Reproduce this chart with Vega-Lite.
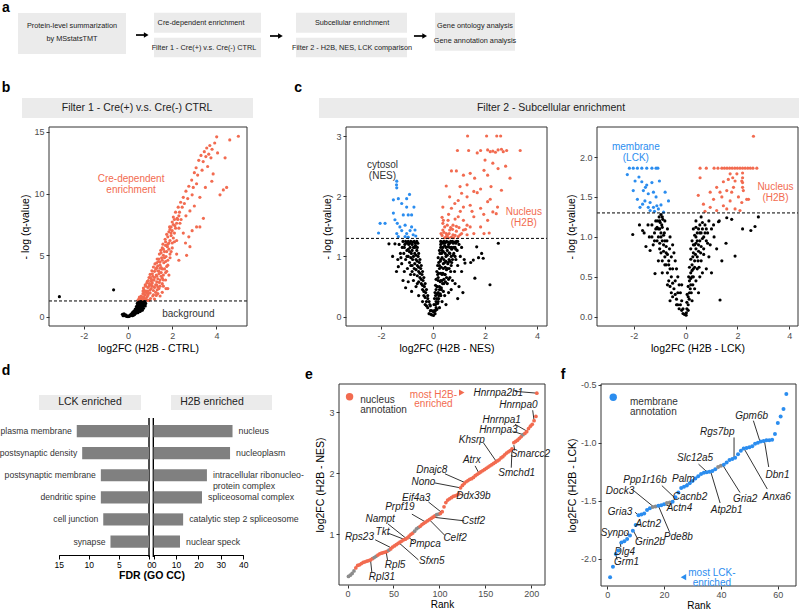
{
"$schema":"https://vega.github.io/schema/vega-lite/v6.json",
"width":799,"height":609,"autosize":{"type":"none"},"padding":0,"background":"white",
"config":{"view":{"stroke":null},"font":"Liberation Sans","axis":{"grid":false,"domain":false,"tickSize":3,"tickColor":"#333333","labelColor":"#4D4D4D","labelFontSize":9,"titleFontSize":10.5,"titleFontWeight":"normal","titleColor":"#000000","labelPadding":2,"titlePadding":3,"labelFlush":false,"labelExpr":"replace(datum.label, '−', '-')"}},
"datasets":{
"boxes":[{"x0":2.25,"x1":15.77,"y0":2.13,"y1":8.87},{"x0":19.27,"x1":32.67,"y0":2.09,"y1":5.37},{"x0":19.27,"x1":32.67,"y0":6.19,"y1":9.41},{"x0":37.05,"x1":50.94,"y0":2.09,"y1":5.37},{"x0":37.05,"x1":50.94,"y0":6.19,"y1":9.41},{"x0":54.44,"x1":64.46,"y0":2.09,"y1":8.33},{"x0":2.75,"x1":31.66,"y0":16.09,"y1":19.38},{"x0":39.92,"x1":100,"y0":16.09,"y1":19.38},{"x0":4.88,"x1":17.65,"y0":64.86,"y1":67.32},{"x0":21.4,"x1":34.04,"y0":64.86,"y1":67.32}],
"arrows":[{"x0":17.02,"x1":18.3,"y":5.75},{"x0":33.79,"x1":35.1,"y":5.91},{"x0":51.81,"x1":53.15,"y":5.91}],
"vlines":[{"x":18.65,"y0":68.64,"y1":91.46},{"x":19.19,"y0":68.64,"y1":91.46}],
"anntext":[{"k":"letter","t":"a","x":0.75,"y":1.31},{"k":"letter","t":"b","x":0.75,"y":14.45},{"k":"letter","t":"c","x":37.3,"y":14.45},{"k":"letter","t":"d","x":0.75,"y":60.9},{"k":"letter","t":"e","x":38.67,"y":61.58},{"k":"letter","t":"f","x":70.46,"y":61.58},
{"k":"box","t":"Protein-level summarization","x":9.01,"y":4.27},{"k":"box","t":"by MSstatsTMT","x":9.01,"y":6.45},{"k":"box","t":"Cre-dependent enrichment","x":25.16,"y":3.73},{"k":"box","t":"Filter 1 - Cre(+) v.s. Cre(-) CTRL","x":25.53,"y":7.83},{"k":"box","t":"Subcellular enrichment","x":44.06,"y":3.73},{"k":"box","t":"Filter 2 - H2B, NES, LCK comparison","x":44.06,"y":7.83},{"k":"box","t":"Gene ontology analysis","x":59.45,"y":4.27},{"k":"box","t":"Gene annotation analysis","x":59.45,"y":6.73},
{"k":"strip","t":"Filter 1 - Cre(+) v.s. Cre(-) CTRL","x":17.15,"y":17.73},{"k":"strip","t":"Filter 2 - Subcellular enrichment","x":68.96,"y":17.73},{"k":"strip","t":"LCK enriched","x":11.26,"y":66.09},{"k":"strip","t":"H2B enriched","x":26.53,"y":66.09},{"k":"dtitle","t":"FDR (GO CC)","x":19.02,"y":94.5}],
"b":[{"x":0.45,"y":1.35,"g":"r"},{"x":0.5,"y":1.5,"g":"r"},{"x":0.55,"y":1.4,"g":"r"},{"x":0.6,"y":1.7,"g":"r"},{"x":0.62,"y":1.35,"g":"r"},{"x":0.68,"y":1.9,"g":"r"},{"x":0.7,"y":1.5,"g":"r"},{"x":0.72,"y":2.2,"g":"r"},{"x":0.75,"y":1.4,"g":"r"},{"x":0.78,"y":1.8,"g":"r"},{"x":0.8,"y":2.5,"g":"r"},{"x":0.82,"y":2.1,"g":"r"},{"x":0.85,"y":1.6,"g":"r"},{"x":0.88,"y":2.9,"g":"r"},{"x":0.9,"y":2.4,"g":"r"},{"x":0.92,"y":1.9,"g":"r"},{"x":0.95,"y":3.2,"g":"r"},{"x":0.97,"y":2.7,"g":"r"},{"x":1.0,"y":2.2,"g":"r"},{"x":1.0,"y":3.45,"g":"r"},{"x":1.02,"y":1.5,"g":"r"},{"x":1.05,"y":2.9,"g":"r"},{"x":1.08,"y":3.75,"g":"r"},{"x":1.1,"y":2.5,"g":"r"},{"x":1.12,"y":3.3,"g":"r"},{"x":1.15,"y":4.05,"g":"r"},{"x":1.15,"y":1.8,"g":"r"},{"x":1.18,"y":3.0,"g":"r"},{"x":1.2,"y":3.7,"g":"r"},{"x":1.22,"y":4.3,"g":"r"},{"x":1.25,"y":2.6,"g":"r"},{"x":1.28,"y":3.4,"g":"r"},{"x":1.3,"y":4.0,"g":"r"},{"x":1.32,"y":4.7,"g":"r"},{"x":1.32,"y":2.2,"g":"r"},{"x":1.35,"y":3.1,"g":"r"},{"x":1.38,"y":4.5,"g":"r"},{"x":1.42,"y":5.1,"g":"r"},{"x":1.4,"y":3.7,"g":"r"},{"x":1.42,"y":2.8,"g":"r"},{"x":1.45,"y":4.2,"g":"r"},{"x":1.48,"y":5.4,"g":"r"},{"x":1.5,"y":3.3,"g":"r"},{"x":1.52,"y":4.8,"g":"r"},{"x":1.55,"y":3.9,"g":"r"},{"x":1.58,"y":5.9,"g":"r"},{"x":1.6,"y":2.5,"g":"r"},{"x":1.62,"y":4.4,"g":"r"},{"x":1.65,"y":5.3,"g":"r"},{"x":1.68,"y":6.3,"g":"r"},{"x":1.7,"y":3.6,"g":"r"},{"x":1.72,"y":4.9,"g":"r"},{"x":1.75,"y":6.7,"g":"r"},{"x":1.78,"y":5.7,"g":"r"},{"x":1.8,"y":4.2,"g":"r"},{"x":1.85,"y":6.0,"g":"r"},{"x":1.88,"y":7.3,"g":"r"},{"x":1.9,"y":5.1,"g":"r"},{"x":1.95,"y":6.6,"g":"r"},{"x":2.0,"y":7.7,"g":"r"},{"x":2.0,"y":5.6,"g":"r"},{"x":2.05,"y":8.1,"g":"r"},{"x":2.1,"y":6.8,"g":"r"},{"x":2.12,"y":7.4,"g":"r"},{"x":2.15,"y":8.5,"g":"r"},{"x":2.2,"y":6.2,"g":"r"},{"x":2.22,"y":8.0,"g":"r"},{"x":2.27,"y":8.9,"g":"r"},{"x":2.3,"y":7.2,"g":"r"},{"x":2.33,"y":8.5,"g":"r"},{"x":2.38,"y":9.3,"g":"r"},{"x":2.4,"y":7.9,"g":"r"},{"x":2.45,"y":8.9,"g":"r"},{"x":2.5,"y":9.7,"g":"r"},{"x":2.5,"y":6.8,"g":"r"},{"x":2.55,"y":9.2,"g":"r"},{"x":2.62,"y":10.2,"g":"r"},{"x":2.62,"y":8.2,"g":"r"},{"x":2.65,"y":5.0,"g":"r"},{"x":2.7,"y":9.6,"g":"r"},{"x":2.75,"y":10.6,"g":"r"},{"x":2.75,"y":6.5,"g":"r"},{"x":2.8,"y":8.6,"g":"r"},{"x":2.8,"y":5.7,"g":"r"},{"x":2.88,"y":11.1,"g":"r"},{"x":2.9,"y":9.9,"g":"r"},{"x":2.9,"y":7.0,"g":"r"},{"x":2.95,"y":10.5,"g":"r"},{"x":3.0,"y":11.7,"g":"r"},{"x":3.0,"y":9.0,"g":"r"},{"x":3.08,"y":12.1,"g":"r"},{"x":3.1,"y":7.3,"g":"r"},{"x":3.1,"y":10.8,"g":"r"},{"x":3.15,"y":11.5,"g":"r"},{"x":3.2,"y":12.7,"g":"r"},{"x":3.25,"y":7.3,"g":"r"},{"x":3.25,"y":9.7,"g":"r"},{"x":3.3,"y":13.1,"g":"r"},{"x":3.35,"y":11.9,"g":"r"},{"x":3.41,"y":8.0,"g":"r"},{"x":3.4,"y":12.6,"g":"r"},{"x":3.45,"y":13.4,"g":"r"},{"x":3.5,"y":10.5,"g":"r"},{"x":3.52,"y":13.0,"g":"r"},{"x":3.56,"y":13.7,"g":"r"},{"x":3.6,"y":12.2,"g":"r"},{"x":3.65,"y":13.2,"g":"r"},{"x":3.7,"y":13.9,"g":"r"},{"x":3.75,"y":12.9,"g":"r"},{"x":3.79,"y":11.0,"g":"r"},{"x":3.8,"y":13.6,"g":"r"},{"x":3.85,"y":11.6,"g":"r"},{"x":3.92,"y":14.1,"g":"r"},{"x":4.01,"y":14.6,"g":"r"},{"x":4.05,"y":13.3,"g":"r"},{"x":4.16,"y":9.9,"g":"r"},{"x":4.31,"y":10.3,"g":"r"},{"x":4.39,"y":12.9,"g":"r"},{"x":4.46,"y":10.5,"g":"r"},{"x":4.6,"y":14.35,"g":"r"},{"x":4.99,"y":14.65,"g":"r"},{"x":1.72,"y":2.3,"g":"r"},{"x":1.8,"y":2.3,"g":"r"},{"x":2.3,"y":4.6,"g":"r"},{"x":1.55,"y":2.0,"g":"r"},{"x":1.45,"y":1.7,"g":"r"},{"x":1.2,"y":1.45,"g":"r"},{"x":0.95,"y":1.35,"g":"r"},{"x":1.4,"y":2.3,"g":"r"},{"x":1.7,"y":3.0,"g":"r"},{"x":1.85,"y":3.4,"g":"r"},{"x":2.6,"y":6.0,"g":"r"},{"x":2.2,"y":5.1,"g":"r"},
{"x":0.52,"y":1.62,"g":"r"},{"x":0.58,"y":1.55,"g":"r"},{"x":0.65,"y":1.6,"g":"r"},{"x":0.72,"y":1.65,"g":"r"},{"x":0.8,"y":1.45,"g":"r"},{"x":0.88,"y":1.35,"g":"r"},{"x":0.9,"y":1.75,"g":"r"},{"x":0.65,"y":1.45,"g":"r"},{"x":0.85,"y":1.95,"g":"r"},{"x":0.75,"y":2.0,"g":"r"},{"x":0.68,"y":2.1,"g":"r"},{"x":0.7,"y":2.35,"g":"r"},{"x":0.78,"y":2.6,"g":"r"},{"x":0.85,"y":2.75,"g":"r"},{"x":0.95,"y":2.5,"g":"r"},{"x":1.05,"y":2.3,"g":"r"},{"x":1.15,"y":2.15,"g":"r"},{"x":1.25,"y":2.0,"g":"r"},{"x":1.35,"y":1.9,"g":"r"},{"x":0.92,"y":2.95,"g":"r"},{"x":1.05,"y":2.6,"g":"r"},{"x":1.2,"y":2.4,"g":"r"},{"x":1.3,"y":2.6,"g":"r"},{"x":1.45,"y":2.5,"g":"r"},{"x":1.55,"y":2.7,"g":"r"},{"x":1.1,"y":2.75,"g":"r"},{"x":0.9,"y":2.1,"g":"r"},{"x":1.0,"y":1.95,"g":"r"},{"x":1.12,"y":1.7,"g":"r"},{"x":1.28,"y":1.75,"g":"r"},{"x":1.35,"y":2.45,"g":"r"},{"x":1.0,"y":3.2,"g":"r"},{"x":1.1,"y":3.5,"g":"r"},{"x":1.2,"y":3.2,"g":"r"},{"x":1.25,"y":3.9,"g":"r"},{"x":1.3,"y":3.3,"g":"r"},{"x":1.4,"y":3.5,"g":"r"},{"x":1.5,"y":3.6,"g":"r"},{"x":1.6,"y":3.4,"g":"r"},{"x":1.65,"y":3.9,"g":"r"},{"x":1.45,"y":3.0,"g":"r"},{"x":1.3,"y":2.85,"g":"r"},{"x":1.55,"y":3.15,"g":"r"},{"x":1.15,"y":3.0,"g":"r"},{"x":1.05,"y":3.1,"g":"r"},{"x":1.35,"y":3.75,"g":"r"},{"x":1.45,"y":3.95,"g":"r"},{"x":1.75,"y":3.7,"g":"r"},{"x":1.6,"y":3.0,"g":"r"},{"x":1.3,"y":4.4,"g":"r"},{"x":1.4,"y":4.7,"g":"r"},{"x":1.45,"y":4.45,"g":"r"},{"x":1.55,"y":4.6,"g":"r"},{"x":1.6,"y":5.0,"g":"r"},{"x":1.7,"y":4.5,"g":"r"},{"x":1.75,"y":4.1,"g":"r"},{"x":1.5,"y":4.0,"g":"r"},{"x":1.35,"y":4.15,"g":"r"},{"x":1.8,"y":4.6,"g":"r"},{"x":1.65,"y":4.8,"g":"r"},{"x":1.9,"y":4.8,"g":"r"},{"x":1.5,"y":5.2,"g":"r"},{"x":1.55,"y":5.6,"g":"r"},{"x":1.6,"y":5.5,"g":"r"},{"x":1.7,"y":5.8,"g":"r"},{"x":1.75,"y":5.3,"g":"r"},{"x":1.8,"y":5.9,"g":"r"},{"x":1.85,"y":5.5,"g":"r"},{"x":1.9,"y":6.2,"g":"r"},{"x":2.0,"y":6.0,"g":"r"},{"x":1.95,"y":5.3,"g":"r"},{"x":2.05,"y":6.4,"g":"r"},{"x":2.1,"y":6.1,"g":"r"},{"x":1.7,"y":6.1,"g":"r"},{"x":1.8,"y":6.5,"g":"r"},{"x":1.85,"y":6.9,"g":"r"},{"x":1.9,"y":7.1,"g":"r"},{"x":1.95,"y":7.3,"g":"r"},{"x":2.0,"y":7.0,"g":"r"},{"x":2.05,"y":7.5,"g":"r"},{"x":2.15,"y":7.2,"g":"r"},{"x":2.2,"y":7.6,"g":"r"},{"x":2.25,"y":7.9,"g":"r"},{"x":2.35,"y":7.6,"g":"r"},{"x":1.95,"y":6.8,"g":"r"},{"x":2.1,"y":7.9,"g":"r"},{"x":2.3,"y":8.2,"g":"r"},
{"x":-0.25,"y":0.22,"g":"k"},{"x":-0.2,"y":0.15,"g":"k"},{"x":-0.15,"y":0.12,"g":"k"},{"x":-0.1,"y":0.08,"g":"k"},{"x":-0.05,"y":0.05,"g":"k"},{"x":0,"y":0.03,"g":"k"},{"x":0.05,"y":0.05,"g":"k"},{"x":0.1,"y":0.1,"g":"k"},{"x":0.15,"y":0.15,"g":"k"},{"x":0.2,"y":0.25,"g":"k"},{"x":0.25,"y":0.35,"g":"k"},{"x":0.3,"y":0.45,"g":"k"},{"x":0.35,"y":0.6,"g":"k"},{"x":0.4,"y":0.75,"g":"k"},{"x":0.42,"y":0.9,"g":"k"},{"x":0.45,"y":1.05,"g":"k"},{"x":0.48,"y":1.2,"g":"k"},{"x":0.35,"y":0.3,"g":"k"},{"x":0.4,"y":0.45,"g":"k"},{"x":0.45,"y":0.6,"g":"k"},{"x":0.5,"y":0.75,"g":"k"},{"x":0.55,"y":0.9,"g":"k"},{"x":0.6,"y":1.05,"g":"k"},{"x":0.62,"y":1.2,"g":"k"},{"x":0.5,"y":0.45,"g":"k"},{"x":0.55,"y":0.6,"g":"k"},{"x":0.6,"y":0.7,"g":"k"},{"x":0.65,"y":0.85,"g":"k"},{"x":0.7,"y":1.0,"g":"k"},{"x":0.72,"y":1.15,"g":"k"},{"x":0.75,"y":1.25,"g":"k"},{"x":0.65,"y":0.55,"g":"k"},{"x":0.7,"y":0.7,"g":"k"},{"x":0.8,"y":1.1,"g":"k"},{"x":0.3,"y":0.2,"g":"k"},{"x":0.2,"y":0.1,"g":"k"},{"x":0.25,"y":0.15,"g":"k"},{"x":0.38,"y":0.55,"g":"k"},{"x":0.52,"y":1.1,"g":"k"},{"x":0.58,"y":1.25,"g":"k"},{"x":0.45,"y":0.35,"g":"k"},{"x":-0.18,"y":0.25,"g":"k"},{"x":-0.22,"y":0.1,"g":"k"},{"x":-3.1,"y":1.65,"g":"k"},{"x":-0.65,"y":2.2,"g":"k"},
{"x":0.3,"y":0.35,"g":"k"},{"x":0.45,"y":0.8,"g":"k"},{"x":0.5,"y":0.95,"g":"k"},{"x":0.55,"y":1.05,"g":"k"},{"x":0.6,"y":0.85,"g":"k"},{"x":0.65,"y":1.0,"g":"k"},{"x":0.7,"y":1.2,"g":"k"},{"x":0.5,"y":0.55,"g":"k"},{"x":0.55,"y":0.75,"g":"k"},{"x":0.6,"y":0.55,"g":"k"},{"x":0.4,"y":0.35,"g":"k"},{"x":0.5,"y":0.65,"g":"k"},{"x":0.55,"y":0.45,"g":"k"},{"x":0.62,"y":0.65,"g":"k"},{"x":0.68,"y":0.85,"g":"k"},{"x":0.75,"y":1.05,"g":"k"},{"x":0.78,"y":0.9,"g":"k"},{"x":0.42,"y":1.1,"g":"k"},{"x":0.47,"y":0.95,"g":"k"},{"x":0.38,"y":0.85,"g":"k"},{"x":0.33,"y":0.65,"g":"k"},{"x":0.28,"y":0.5,"g":"k"},{"x":0.22,"y":0.4,"g":"k"},{"x":0.18,"y":0.3,"g":"k"},{"x":0.12,"y":0.2,"g":"k"},{"x":0.08,"y":0.12,"g":"k"},{"x":-0.02,"y":0.06,"g":"k"},{"x":0.03,"y":0.08,"g":"k"},{"x":-0.08,"y":0.15,"g":"k"},{"x":-0.15,"y":0.2,"g":"k"}],
"c1":[{"x":-1.39,"y":2.25,"g":"b"},{"x":-1.4,"y":2.19,"g":"b"},{"x":-1.39,"y":2.14,"g":"b"},{"x":-1.52,"y":1.94,"g":"b"},{"x":-1.33,"y":1.96,"g":"b"},{"x":-1.01,"y":1.96,"g":"b"},{"x":-0.9,"y":2.03,"g":"b"},{"x":-1.2,"y":1.88,"g":"b"},{"x":-1.01,"y":1.82,"g":"b"},{"x":-0.73,"y":1.82,"g":"b"},{"x":-1.52,"y":1.72,"g":"b"},{"x":-1.14,"y":1.69,"g":"b"},{"x":-0.95,"y":1.69,"g":"b"},{"x":-0.82,"y":1.69,"g":"b"},{"x":-2.03,"y":1.55,"g":"b"},{"x":-1.84,"y":1.55,"g":"b"},{"x":-1.46,"y":1.61,"g":"b"},{"x":-1.37,"y":1.55,"g":"b"},{"x":-1.27,"y":1.49,"g":"b"},{"x":-1.07,"y":1.52,"g":"b"},{"x":-0.82,"y":1.49,"g":"b"},{"x":-0.69,"y":1.44,"g":"b"},{"x":-2.09,"y":1.39,"g":"b"},{"x":-1.39,"y":1.38,"g":"b"},{"x":-1.2,"y":1.43,"g":"b"},{"x":-1.01,"y":1.38,"g":"b"},{"x":-0.88,"y":1.43,"g":"b"},{"x":-0.76,"y":1.36,"g":"b"},{"x":-0.66,"y":1.34,"g":"b"},{"x":-1.33,"y":1.33,"g":"b"},{"x":-1.07,"y":1.33,"g":"b"},{"x":-0.95,"y":1.32,"g":"b"},
{"x":1.33,"y":3.0,"g":"r"},{"x":2.06,"y":3.0,"g":"r"},{"x":2.45,"y":3.0,"g":"r"},{"x":2.6,"y":3.0,"g":"r"},{"x":0.94,"y":2.76,"g":"r"},{"x":1.37,"y":2.76,"g":"r"},{"x":1.7,"y":2.72,"g":"r"},{"x":1.83,"y":2.76,"g":"r"},{"x":2.1,"y":2.77,"g":"r"},{"x":2.3,"y":2.75,"g":"r"},{"x":2.5,"y":2.77,"g":"r"},{"x":2.63,"y":2.78,"g":"r"},{"x":2.83,"y":2.76,"g":"r"},{"x":3.35,"y":2.76,"g":"r"},{"x":2.2,"y":2.74,"g":"r"},{"x":2.4,"y":2.73,"g":"r"},{"x":2.7,"y":2.74,"g":"r"},{"x":0.71,"y":2.42,"g":"r"},{"x":0.9,"y":2.42,"g":"r"},{"x":1.17,"y":2.35,"g":"r"},{"x":1.43,"y":2.38,"g":"r"},{"x":1.96,"y":2.43,"g":"r"},{"x":2.1,"y":2.35,"g":"r"},{"x":2.5,"y":2.46,"g":"r"},{"x":2.79,"y":2.5,"g":"r"},{"x":2.96,"y":2.3,"g":"r"},{"x":2.3,"y":2.55,"g":"r"},{"x":2.0,"y":2.6,"g":"r"},{"x":0.51,"y":2.17,"g":"r"},{"x":1.04,"y":2.16,"g":"r"},{"x":1.31,"y":2.19,"g":"r"},{"x":1.57,"y":2.08,"g":"r"},{"x":1.83,"y":2.12,"g":"r"},{"x":2.23,"y":2.16,"g":"r"},{"x":2.63,"y":2.1,"g":"r"},{"x":0.64,"y":1.99,"g":"r"},{"x":0.97,"y":1.93,"g":"r"},{"x":1.31,"y":1.99,"g":"r"},{"x":1.7,"y":2.06,"g":"r"},{"x":2.1,"y":1.91,"g":"r"},{"x":2.48,"y":1.82,"g":"r"},{"x":0.38,"y":1.82,"g":"r"},{"x":0.71,"y":1.8,"g":"r"},{"x":0.84,"y":1.88,"g":"r"},{"x":1.17,"y":1.82,"g":"r"},{"x":1.43,"y":1.85,"g":"r"},{"x":1.83,"y":1.8,"g":"r"},{"x":2.3,"y":1.74,"g":"r"},{"x":2.43,"y":1.71,"g":"r"},{"x":0.38,"y":1.55,"g":"r"},{"x":0.58,"y":1.6,"g":"r"},{"x":0.77,"y":1.52,"g":"r"},{"x":0.97,"y":1.66,"g":"r"},{"x":1.17,"y":1.6,"g":"r"},{"x":1.31,"y":1.52,"g":"r"},{"x":1.57,"y":1.66,"g":"r"},{"x":1.83,"y":1.49,"g":"r"},{"x":2.1,"y":1.6,"g":"r"},{"x":1.96,"y":1.38,"g":"r"},{"x":2.16,"y":1.39,"g":"r"},{"x":0.38,"y":1.44,"g":"r"},{"x":0.51,"y":1.38,"g":"r"},{"x":0.64,"y":1.44,"g":"r"},{"x":0.77,"y":1.36,"g":"r"},{"x":0.9,"y":1.42,"g":"r"},{"x":1.04,"y":1.36,"g":"r"},{"x":0.51,"y":1.33,"g":"r"},{"x":0.71,"y":1.32,"g":"r"},{"x":0.97,"y":1.33,"g":"r"},{"x":1.31,"y":1.36,"g":"r"},{"x":1.57,"y":1.38,"g":"r"},{"x":1.17,"y":1.44,"g":"r"},{"x":0.45,"y":1.49,"g":"r"},{"x":0.31,"y":1.38,"g":"r"},{"x":1.43,"y":1.49,"g":"r"},{"x":0.6,"y":1.7,"g":"r"},{"x":0.85,"y":1.62,"g":"r"},{"x":1.05,"y":1.75,"g":"r"},{"x":1.5,"y":1.75,"g":"r"},{"x":1.95,"y":1.7,"g":"r"},{"x":2.2,"y":1.95,"g":"r"},{"x":1.6,"y":2.3,"g":"r"},{"x":1.1,"y":2.05,"g":"r"},{"x":0.45,"y":1.31,"g":"r"},{"x":0.6,"y":1.31,"g":"r"},{"x":0.8,"y":1.31,"g":"r"},{"x":1.0,"y":1.48,"g":"r"},{"x":0.35,"y":1.65,"g":"r"},{"x":0.35,"y":1.35,"g":"r"},{"x":0.42,"y":1.4,"g":"r"},{"x":0.55,"y":1.35,"g":"r"},{"x":0.62,"y":1.38,"g":"r"},{"x":0.68,"y":1.48,"g":"r"},{"x":0.85,"y":1.35,"g":"r"},{"x":0.9,"y":1.5,"g":"r"},{"x":0.4,"y":1.6,"g":"r"},{"x":0.55,"y":1.52,"g":"r"},{"x":0.75,"y":1.45,"g":"r"},{"x":1.1,"y":1.38,"g":"r"},{"x":1.25,"y":1.45,"g":"r"},
{"x":-0.05,"y":0.03,"g":"k"},{"x":-0.1,"y":0.1,"g":"k"},{"x":-0.15,"y":0.05,"g":"k"},{"x":-0.12,"y":0.2,"g":"k"},{"x":-0.2,"y":0.15,"g":"k"},{"x":-0.2,"y":0.3,"g":"k"},{"x":-0.25,"y":0.25,"g":"k"},{"x":-0.28,"y":0.4,"g":"k"},{"x":-0.3,"y":0.2,"g":"k"},{"x":-0.33,"y":0.5,"g":"k"},{"x":-0.35,"y":0.35,"g":"k"},{"x":-0.38,"y":0.6,"g":"k"},{"x":-0.4,"y":0.45,"g":"k"},{"x":-0.42,"y":0.7,"g":"k"},{"x":-0.45,"y":0.55,"g":"k"},{"x":-0.47,"y":0.8,"g":"k"},{"x":-0.5,"y":0.65,"g":"k"},{"x":-0.52,"y":0.9,"g":"k"},{"x":-0.55,"y":0.75,"g":"k"},{"x":-0.57,"y":1.0,"g":"k"},{"x":-0.6,"y":0.85,"g":"k"},{"x":-0.62,"y":1.1,"g":"k"},{"x":-0.65,"y":0.95,"g":"k"},{"x":-0.67,"y":1.18,"g":"k"},{"x":-0.7,"y":1.05,"g":"k"},{"x":-0.72,"y":0.8,"g":"k"},{"x":-0.75,"y":1.15,"g":"k"},{"x":-0.78,"y":0.95,"g":"k"},{"x":-0.8,"y":1.2,"g":"k"},{"x":-0.83,"y":1.05,"g":"k"},{"x":-0.86,"y":0.7,"g":"k"},{"x":-0.88,"y":1.15,"g":"k"},{"x":-0.9,"y":0.9,"g":"k"},{"x":-0.93,"y":1.2,"g":"k"},{"x":-0.95,"y":1.0,"g":"k"},{"x":-0.98,"y":0.8,"g":"k"},{"x":-1.0,"y":1.1,"g":"k"},{"x":-1.05,"y":0.95,"g":"k"},{"x":-1.08,"y":1.2,"g":"k"},{"x":-1.12,"y":1.05,"g":"k"},{"x":-1.15,"y":0.6,"g":"k"},{"x":-1.18,"y":1.15,"g":"k"},{"x":-1.2,"y":0.88,"g":"k"},{"x":-1.25,"y":1.05,"g":"k"},{"x":-1.3,"y":1.2,"g":"k"},{"x":-1.35,"y":0.95,"g":"k"},{"x":-1.4,"y":0.75,"g":"k"},{"x":-1.46,"y":1.21,"g":"k"},{"x":-1.69,"y":1.21,"g":"k"},{"x":-1.33,"y":0.83,"g":"k"},{"x":-1.23,"y":0.98,"g":"k"},{"x":-0.95,"y":0.58,"g":"k"},{"x":-0.82,"y":0.42,"g":"k"},{"x":-1.05,"y":0.48,"g":"k"},{"x":-0.65,"y":0.5,"g":"k"},{"x":-0.55,"y":0.35,"g":"k"},{"x":-0.75,"y":0.6,"g":"k"},{"x":-0.4,"y":0.25,"g":"k"},{"x":-0.6,"y":0.55,"g":"k"},{"x":-0.85,"y":0.85,"g":"k"},{"x":-1.1,"y":0.75,"g":"k"},{"x":-1.55,"y":1.0,"g":"k"},
{"x":-0.58,"y":1.22,"g":"k"},{"x":-0.62,"y":1.25,"g":"k"},{"x":-0.68,"y":1.22,"g":"k"},{"x":-0.72,"y":1.25,"g":"k"},{"x":-0.78,"y":1.24,"g":"k"},{"x":-0.85,"y":1.25,"g":"k"},{"x":-0.9,"y":1.22,"g":"k"},{"x":-0.95,"y":1.25,"g":"k"},{"x":-1.0,"y":1.22,"g":"k"},{"x":-1.05,"y":1.25,"g":"k"},{"x":-0.6,"y":1.15,"g":"k"},{"x":-0.7,"y":1.15,"g":"k"},{"x":-0.8,"y":1.1,"g":"k"},{"x":-0.9,"y":1.08,"g":"k"},{"x":-1.0,"y":1.0,"g":"k"},{"x":-0.55,"y":1.05,"g":"k"},{"x":-0.65,"y":1.02,"g":"k"},{"x":-0.75,"y":1.0,"g":"k"},{"x":-0.85,"y":0.98,"g":"k"},{"x":-0.5,"y":0.95,"g":"k"},{"x":-0.6,"y":0.92,"g":"k"},{"x":-0.7,"y":0.88,"g":"k"},{"x":-0.8,"y":0.85,"g":"k"},{"x":-0.45,"y":0.85,"g":"k"},{"x":-0.55,"y":0.82,"g":"k"},{"x":-0.65,"y":0.78,"g":"k"},{"x":-0.4,"y":0.75,"g":"k"},{"x":-0.5,"y":0.72,"g":"k"},{"x":-0.6,"y":0.68,"g":"k"},{"x":-0.35,"y":0.65,"g":"k"},{"x":-0.45,"y":0.62,"g":"k"},{"x":-0.55,"y":0.58,"g":"k"},{"x":-0.3,"y":0.55,"g":"k"},{"x":-0.4,"y":0.52,"g":"k"},{"x":-0.25,"y":0.45,"g":"k"},{"x":-0.35,"y":0.42,"g":"k"},{"x":-0.2,"y":0.35,"g":"k"},{"x":-0.3,"y":0.32,"g":"k"},{"x":-0.15,"y":0.25,"g":"k"},{"x":-0.25,"y":0.18,"g":"k"},{"x":-0.1,"y":0.18,"g":"k"},{"x":-0.05,"y":0.1,"g":"k"},{"x":-0.08,"y":0.04,"g":"k"},{"x":-1.1,"y":1.15,"g":"k"},{"x":-0.95,"y":1.12,"g":"k"},{"x":-1.15,"y":1.25,"g":"k"},{"x":-0.72,"y":0.7,"g":"k"},{"x":-0.8,"y":0.75,"g":"k"},
{"x":0.02,"y":0.02,"g":"k"},{"x":0.05,"y":0.1,"g":"k"},{"x":0.08,"y":0.05,"g":"k"},{"x":0.1,"y":0.2,"g":"k"},{"x":0.12,"y":0.15,"g":"k"},{"x":0.15,"y":0.3,"g":"k"},{"x":0.18,"y":0.22,"g":"k"},{"x":0.2,"y":0.4,"g":"k"},{"x":0.22,"y":0.3,"g":"k"},{"x":0.25,"y":0.5,"g":"k"},{"x":0.28,"y":0.38,"g":"k"},{"x":0.3,"y":0.6,"g":"k"},{"x":0.32,"y":0.45,"g":"k"},{"x":0.35,"y":0.7,"g":"k"},{"x":0.37,"y":0.55,"g":"k"},{"x":0.4,"y":0.8,"g":"k"},{"x":0.42,"y":0.62,"g":"k"},{"x":0.45,"y":0.9,"g":"k"},{"x":0.47,"y":0.7,"g":"k"},{"x":0.5,"y":1.0,"g":"k"},{"x":0.52,"y":0.78,"g":"k"},{"x":0.55,"y":1.1,"g":"k"},{"x":0.57,"y":0.88,"g":"k"},{"x":0.6,"y":1.2,"g":"k"},{"x":0.62,"y":0.95,"g":"k"},{"x":0.65,"y":1.05,"g":"k"},{"x":0.68,"y":1.25,"g":"k"},{"x":0.7,"y":0.85,"g":"k"},{"x":0.72,"y":1.15,"g":"k"},{"x":0.75,"y":0.95,"g":"k"},{"x":0.78,"y":1.22,"g":"k"},{"x":0.8,"y":1.05,"g":"k"},{"x":0.83,"y":0.75,"g":"k"},{"x":0.85,"y":1.15,"g":"k"},{"x":0.88,"y":0.95,"g":"k"},{"x":0.9,"y":1.25,"g":"k"},{"x":0.93,"y":1.1,"g":"k"},{"x":0.95,"y":0.85,"g":"k"},{"x":1.0,"y":1.2,"g":"k"},{"x":1.05,"y":1.0,"g":"k"},{"x":1.1,"y":1.15,"g":"k"},{"x":0.15,"y":0.5,"g":"k"},{"x":0.2,"y":0.65,"g":"k"},{"x":0.25,"y":0.8,"g":"k"},{"x":0.3,"y":0.95,"g":"k"},{"x":0.35,"y":1.1,"g":"k"},{"x":0.4,"y":1.22,"g":"k"},{"x":0.18,"y":0.7,"g":"k"},{"x":0.22,"y":0.9,"g":"k"},{"x":0.27,"y":1.05,"g":"k"},{"x":0.3,"y":1.2,"g":"k"},{"x":0.12,"y":0.45,"g":"k"},{"x":0.1,"y":0.35,"g":"k"},{"x":0.55,"y":0.55,"g":"k"},{"x":0.65,"y":0.65,"g":"k"},{"x":0.75,"y":0.6,"g":"k"},{"x":0.85,"y":0.55,"g":"k"},{"x":0.7,"y":0.45,"g":"k"},{"x":1.0,"y":0.5,"g":"k"},{"x":1.1,"y":0.75,"g":"k"},{"x":1.2,"y":0.95,"g":"k"},{"x":1.23,"y":0.89,"g":"k"},{"x":1.55,"y":0.94,"g":"k"},{"x":1.68,"y":1.16,"g":"k"},{"x":1.87,"y":1.05,"g":"k"},{"x":1.93,"y":0.97,"g":"k"},{"x":2.19,"y":0.53,"g":"k"},{"x":2.51,"y":1.22,"g":"k"},{"x":1.61,"y":0.64,"g":"k"},{"x":1.45,"y":0.9,"g":"k"},{"x":1.75,"y":0.98,"g":"k"},{"x":0.45,"y":0.35,"g":"k"},{"x":0.6,"y":0.4,"g":"k"},{"x":0.35,"y":0.25,"g":"k"},{"x":0.5,"y":0.2,"g":"k"},{"x":0.25,"y":0.15,"g":"k"},{"x":0.95,"y":0.3,"g":"k"},{"x":1.15,"y":0.4,"g":"k"},
{"x":0.3,"y":1.25,"g":"k"},{"x":0.35,"y":1.24,"g":"k"},{"x":0.42,"y":1.25,"g":"k"},{"x":0.48,"y":1.23,"g":"k"},{"x":0.52,"y":1.25,"g":"k"},{"x":0.58,"y":1.24,"g":"k"},{"x":0.64,"y":1.22,"g":"k"},{"x":0.7,"y":1.24,"g":"k"},{"x":0.75,"y":1.25,"g":"k"},{"x":0.82,"y":1.24,"g":"k"},{"x":0.88,"y":1.22,"g":"k"},{"x":0.95,"y":1.25,"g":"k"},{"x":0.3,"y":1.15,"g":"k"},{"x":0.38,"y":1.15,"g":"k"},{"x":0.45,"y":1.18,"g":"k"},{"x":0.5,"y":1.15,"g":"k"},{"x":0.58,"y":1.16,"g":"k"},{"x":0.65,"y":1.15,"g":"k"},{"x":0.72,"y":1.12,"g":"k"},{"x":0.8,"y":1.15,"g":"k"},{"x":0.88,"y":1.12,"g":"k"},{"x":0.25,"y":1.1,"g":"k"},{"x":0.33,"y":1.05,"g":"k"},{"x":0.4,"y":1.08,"g":"k"},{"x":0.47,"y":1.05,"g":"k"},{"x":0.55,"y":1.02,"g":"k"},{"x":0.62,"y":1.06,"g":"k"},{"x":0.7,"y":1.0,"g":"k"},{"x":0.78,"y":1.02,"g":"k"},{"x":0.85,"y":1.0,"g":"k"},{"x":0.2,"y":0.98,"g":"k"},{"x":0.28,"y":0.92,"g":"k"},{"x":0.35,"y":0.98,"g":"k"},{"x":0.42,"y":0.95,"g":"k"},{"x":0.5,"y":0.92,"g":"k"},{"x":0.58,"y":0.9,"g":"k"},{"x":0.65,"y":0.92,"g":"k"},{"x":0.72,"y":0.9,"g":"k"},{"x":0.18,"y":0.85,"g":"k"},{"x":0.25,"y":0.85,"g":"k"},{"x":0.32,"y":0.82,"g":"k"},{"x":0.4,"y":0.88,"g":"k"},{"x":0.47,"y":0.82,"g":"k"},{"x":0.55,"y":0.8,"g":"k"},{"x":0.62,"y":0.8,"g":"k"},{"x":0.68,"y":0.75,"g":"k"},{"x":0.15,"y":0.75,"g":"k"},{"x":0.22,"y":0.72,"g":"k"},{"x":0.3,"y":0.72,"g":"k"},{"x":0.38,"y":0.72,"g":"k"},{"x":0.45,"y":0.7,"g":"k"},{"x":0.52,"y":0.65,"g":"k"},{"x":0.6,"y":0.62,"g":"k"},{"x":0.12,"y":0.62,"g":"k"},{"x":0.2,"y":0.6,"g":"k"},{"x":0.28,"y":0.58,"g":"k"},{"x":0.35,"y":0.6,"g":"k"},{"x":0.42,"y":0.55,"g":"k"},{"x":0.48,"y":0.58,"g":"k"},{"x":0.1,"y":0.52,"g":"k"},{"x":0.17,"y":0.5,"g":"k"},{"x":0.25,"y":0.45,"g":"k"},{"x":0.32,"y":0.48,"g":"k"},{"x":0.4,"y":0.42,"g":"k"},{"x":0.08,"y":0.4,"g":"k"},{"x":0.15,"y":0.38,"g":"k"},{"x":0.22,"y":0.35,"g":"k"},{"x":0.3,"y":0.35,"g":"k"},{"x":0.06,"y":0.3,"g":"k"},{"x":0.12,"y":0.25,"g":"k"},{"x":0.2,"y":0.25,"g":"k"},{"x":0.04,"y":0.2,"g":"k"},{"x":0.09,"y":0.1,"g":"k"},{"x":0.15,"y":0.12,"g":"k"},{"x":0.02,"y":0.08,"g":"k"}],
"c2":[{"x":-2.17,"y":1.86,"g":"b"},{"x":-2.02,"y":1.86,"g":"b"},{"x":-1.86,"y":1.86,"g":"b"},{"x":-1.69,"y":1.86,"g":"b"},{"x":-1.5,"y":1.86,"g":"b"},{"x":-1.3,"y":1.86,"g":"b"},{"x":-1.14,"y":1.86,"g":"b"},{"x":-1.07,"y":1.86,"g":"b"},{"x":-2.25,"y":1.78,"g":"b"},{"x":-1.95,"y":1.7,"g":"b"},{"x":-1.69,"y":1.69,"g":"b"},{"x":-1.5,"y":1.65,"g":"b"},{"x":-1.3,"y":1.68,"g":"b"},{"x":-1.01,"y":1.7,"g":"b"},{"x":-2.02,"y":1.58,"g":"b"},{"x":-1.63,"y":1.58,"g":"b"},{"x":-1.44,"y":1.54,"g":"b"},{"x":-1.24,"y":1.56,"g":"b"},{"x":-1.14,"y":1.5,"g":"b"},{"x":-0.79,"y":1.56,"g":"b"},{"x":-1.86,"y":1.47,"g":"b"},{"x":-1.57,"y":1.45,"g":"b"},{"x":-1.37,"y":1.43,"g":"b"},{"x":-0.66,"y":1.45,"g":"b"},{"x":-1.76,"y":1.37,"g":"b"},{"x":-1.44,"y":1.37,"g":"b"},{"x":-1.24,"y":1.37,"g":"b"},{"x":-1.11,"y":1.39,"g":"b"},{"x":-1.37,"y":1.33,"g":"b"},{"x":-0.85,"y":1.31,"g":"b"},{"x":-1.05,"y":1.35,"g":"b"},{"x":-1.66,"y":1.41,"g":"b"},{"x":-1.2,"y":1.32,"g":"b"},{"x":-0.95,"y":1.4,"g":"b"},{"x":-1.55,"y":1.62,"g":"b"},{"x":-1.8,"y":1.75,"g":"b"},
{"x":0.56,"y":1.86,"g":"r"},{"x":0.8,"y":1.86,"g":"r"},{"x":1.1,"y":1.86,"g":"r"},{"x":1.25,"y":1.86,"g":"r"},{"x":1.4,"y":1.86,"g":"r"},{"x":1.5,"y":1.86,"g":"r"},{"x":1.6,"y":1.86,"g":"r"},{"x":1.7,"y":1.86,"g":"r"},{"x":1.8,"y":1.86,"g":"r"},{"x":1.9,"y":1.86,"g":"r"},{"x":2.0,"y":1.86,"g":"r"},{"x":2.1,"y":1.86,"g":"r"},{"x":2.2,"y":1.86,"g":"r"},{"x":2.3,"y":1.86,"g":"r"},{"x":2.4,"y":1.86,"g":"r"},{"x":2.5,"y":1.86,"g":"r"},{"x":2.6,"y":1.86,"g":"r"},{"x":2.75,"y":1.86,"g":"r"},{"x":2.62,"y":2.26,"g":"r"},{"x":0.56,"y":1.74,"g":"r"},{"x":1.46,"y":1.69,"g":"r"},{"x":1.72,"y":1.79,"g":"r"},{"x":1.85,"y":1.62,"g":"r"},{"x":1.91,"y":1.7,"g":"r"},{"x":1.59,"y":1.58,"g":"r"},{"x":1.2,"y":1.62,"g":"r"},{"x":1.33,"y":1.56,"g":"r"},{"x":1.78,"y":1.56,"g":"r"},{"x":2.17,"y":1.7,"g":"r"},{"x":2.23,"y":1.58,"g":"r"},{"x":2.04,"y":1.5,"g":"r"},{"x":2.36,"y":1.47,"g":"r"},{"x":2.17,"y":1.43,"g":"r"},{"x":1.72,"y":1.45,"g":"r"},{"x":1.46,"y":1.39,"g":"r"},{"x":0.95,"y":1.37,"g":"r"},{"x":0.49,"y":1.52,"g":"r"},{"x":0.69,"y":1.41,"g":"r"},{"x":1.08,"y":1.47,"g":"r"},{"x":1.59,"y":1.35,"g":"r"},{"x":1.91,"y":1.35,"g":"r"},{"x":2.1,"y":1.33,"g":"r"},{"x":1.2,"y":1.33,"g":"r"},{"x":0.75,"y":1.32,"g":"r"},{"x":0.95,"y":1.56,"g":"r"},{"x":1.98,"y":1.79,"g":"r"},{"x":1.82,"y":1.74,"g":"r"},{"x":2.43,"y":1.47,"g":"r"},{"x":2.2,"y":1.8,"g":"r"},{"x":2.2,"y":1.74,"g":"r"},{"x":2.2,"y":1.68,"g":"r"},{"x":2.2,"y":1.62,"g":"r"},{"x":1.65,"y":1.72,"g":"r"},{"x":1.4,"y":1.5,"g":"r"},
{"x":-0.05,"y":0.03,"g":"k"},{"x":-0.1,"y":0.1,"g":"k"},{"x":-0.15,"y":0.2,"g":"k"},{"x":-0.2,"y":0.15,"g":"k"},{"x":-0.2,"y":0.3,"g":"k"},{"x":-0.25,"y":0.4,"g":"k"},{"x":-0.3,"y":0.3,"g":"k"},{"x":-0.3,"y":0.5,"g":"k"},{"x":-0.35,"y":0.6,"g":"k"},{"x":-0.4,"y":0.45,"g":"k"},{"x":-0.4,"y":0.7,"g":"k"},{"x":-0.45,"y":0.8,"g":"k"},{"x":-0.5,"y":0.6,"g":"k"},{"x":-0.5,"y":0.9,"g":"k"},{"x":-0.55,"y":0.75,"g":"k"},{"x":-0.6,"y":1.0,"g":"k"},{"x":-0.62,"y":0.85,"g":"k"},{"x":-0.65,"y":0.65,"g":"k"},{"x":-0.7,"y":1.1,"g":"k"},{"x":-0.72,"y":0.95,"g":"k"},{"x":-0.75,"y":0.8,"g":"k"},{"x":-0.8,"y":1.2,"g":"k"},{"x":-0.82,"y":1.05,"g":"k"},{"x":-0.85,"y":0.9,"g":"k"},{"x":-0.9,"y":1.25,"g":"k"},{"x":-0.92,"y":1.15,"g":"k"},{"x":-0.95,"y":1.0,"g":"k"},{"x":-1.0,"y":1.2,"g":"k"},{"x":-1.0,"y":0.85,"g":"k"},{"x":-1.05,"y":1.1,"g":"k"},{"x":-1.1,"y":0.95,"g":"k"},{"x":-1.15,"y":1.2,"g":"k"},{"x":-1.2,"y":1.05,"g":"k"},{"x":-1.25,"y":0.9,"g":"k"},{"x":-1.3,"y":1.15,"g":"k"},{"x":-1.4,"y":1.0,"g":"k"},{"x":-1.45,"y":1.15,"g":"k"},{"x":-1.6,"y":1.05,"g":"k"},{"x":-2.04,"y":1.03,"g":"k"},{"x":-1.53,"y":0.88,"g":"k"},{"x":-1.78,"y":1.15,"g":"k"},{"x":-1.37,"y":0.83,"g":"k"},{"x":-1.18,"y":0.54,"g":"k"},{"x":-1.66,"y":1.08,"g":"k"},{"x":-0.9,"y":0.55,"g":"k"},{"x":-0.7,"y":0.4,"g":"k"},{"x":-0.55,"y":0.3,"g":"k"},{"x":-1.05,"y":0.7,"g":"k"},{"x":-0.8,"y":0.65,"g":"k"},{"x":-0.6,"y":0.2,"g":"k"},{"x":-0.35,"y":0.15,"g":"k"},{"x":-0.15,"y":0.4,"g":"k"},
{"x":-0.95,"y":1.28,"g":"k"},{"x":-1.02,"y":1.25,"g":"k"},{"x":-0.98,"y":1.18,"g":"k"},{"x":-1.08,"y":1.2,"g":"k"},{"x":-0.9,"y":1.12,"g":"k"},{"x":-1.0,"y":1.1,"g":"k"},{"x":-1.1,"y":1.12,"g":"k"},{"x":-0.85,"y":1.02,"g":"k"},{"x":-0.95,"y":1.05,"g":"k"},{"x":-1.05,"y":1.0,"g":"k"},{"x":-0.8,"y":0.95,"g":"k"},{"x":-0.9,"y":0.95,"g":"k"},{"x":-1.0,"y":0.92,"g":"k"},{"x":-0.75,"y":0.88,"g":"k"},{"x":-0.85,"y":0.82,"g":"k"},{"x":-0.95,"y":0.8,"g":"k"},{"x":-0.7,"y":0.78,"g":"k"},{"x":-0.8,"y":0.75,"g":"k"},{"x":-0.9,"y":0.7,"g":"k"},{"x":-0.65,"y":0.7,"g":"k"},{"x":-0.75,"y":0.65,"g":"k"},{"x":-0.6,"y":0.6,"g":"k"},{"x":-0.7,"y":0.55,"g":"k"},{"x":-0.55,"y":0.5,"g":"k"},{"x":-0.65,"y":0.45,"g":"k"},{"x":-0.5,"y":0.42,"g":"k"},{"x":-0.6,"y":0.38,"g":"k"},{"x":-0.45,"y":0.35,"g":"k"},{"x":-0.4,"y":0.28,"g":"k"},{"x":-0.5,"y":0.25,"g":"k"},{"x":-0.35,"y":0.22,"g":"k"},{"x":-0.3,"y":0.15,"g":"k"},{"x":-0.25,"y":0.1,"g":"k"},{"x":-0.15,"y":0.08,"g":"k"},{"x":-0.1,"y":0.04,"g":"k"},{"x":-1.15,"y":1.1,"g":"k"},{"x":-1.2,"y":0.95,"g":"k"},{"x":-1.3,"y":1.0,"g":"k"},{"x":-0.88,"y":1.22,"g":"k"},
{"x":0.02,"y":0.02,"g":"k"},{"x":0.05,"y":0.1,"g":"k"},{"x":0.1,"y":0.15,"g":"k"},{"x":0.1,"y":0.25,"g":"k"},{"x":0.15,"y":0.3,"g":"k"},{"x":0.15,"y":0.45,"g":"k"},{"x":0.2,"y":0.4,"g":"k"},{"x":0.2,"y":0.55,"g":"k"},{"x":0.25,"y":0.5,"g":"k"},{"x":0.25,"y":0.65,"g":"k"},{"x":0.3,"y":0.6,"g":"k"},{"x":0.3,"y":0.8,"g":"k"},{"x":0.35,"y":0.7,"g":"k"},{"x":0.35,"y":0.9,"g":"k"},{"x":0.4,"y":0.85,"g":"k"},{"x":0.4,"y":1.0,"g":"k"},{"x":0.45,"y":0.75,"g":"k"},{"x":0.45,"y":1.05,"g":"k"},{"x":0.5,"y":0.9,"g":"k"},{"x":0.5,"y":1.1,"g":"k"},{"x":0.55,"y":0.95,"g":"k"},{"x":0.6,"y":1.05,"g":"k"},{"x":0.6,"y":0.7,"g":"k"},{"x":0.65,"y":1.1,"g":"k"},{"x":0.7,"y":0.85,"g":"k"},{"x":0.7,"y":1.0,"g":"k"},{"x":0.75,"y":1.15,"g":"k"},{"x":0.8,"y":0.95,"g":"k"},{"x":0.85,"y":1.05,"g":"k"},{"x":0.9,"y":1.2,"g":"k"},{"x":0.95,"y":0.9,"g":"k"},{"x":1.0,"y":1.1,"g":"k"},{"x":1.1,"y":1.0,"g":"k"},{"x":0.55,"y":0.5,"g":"k"},{"x":0.65,"y":0.55,"g":"k"},{"x":0.8,"y":0.6,"g":"k"},{"x":0.9,"y":0.75,"g":"k"},{"x":1.2,"y":0.85,"g":"k"},{"x":1.3,"y":1.2,"g":"k"},{"x":1.08,"y":1.15,"g":"k"},{"x":1.27,"y":1.19,"g":"k"},{"x":1.59,"y":1.24,"g":"k"},{"x":1.78,"y":1.22,"g":"k"},{"x":2.2,"y":1.1,"g":"k"},{"x":2.52,"y":1.08,"g":"k"},{"x":2.68,"y":1.13,"g":"k"},{"x":2.81,"y":1.25,"g":"k"},{"x":1.56,"y":0.92,"g":"k"},{"x":1.91,"y":0.76,"g":"k"},{"x":1.33,"y":0.21,"g":"k"},{"x":0.5,"y":0.3,"g":"k"},{"x":0.35,"y":0.35,"g":"k"},{"x":1.0,"y":0.55,"g":"k"},{"x":1.4,"y":0.7,"g":"k"},{"x":0.25,"y":0.2,"g":"k"},{"x":0.6,"y":1.25,"g":"k"},{"x":0.4,"y":1.2,"g":"k"},
{"x":0.3,"y":1.1,"g":"k"},{"x":0.4,"y":1.12,"g":"k"},{"x":0.55,"y":1.15,"g":"k"},{"x":0.65,"y":1.18,"g":"k"},{"x":0.8,"y":1.1,"g":"k"},{"x":0.25,"y":0.95,"g":"k"},{"x":0.35,"y":1.02,"g":"k"},{"x":0.45,"y":0.95,"g":"k"},{"x":0.55,"y":1.05,"g":"k"},{"x":0.65,"y":0.98,"g":"k"},{"x":0.75,"y":1.05,"g":"k"},{"x":0.85,"y":0.92,"g":"k"},{"x":0.2,"y":0.85,"g":"k"},{"x":0.3,"y":0.9,"g":"k"},{"x":0.4,"y":0.92,"g":"k"},{"x":0.5,"y":0.82,"g":"k"},{"x":0.6,"y":0.88,"g":"k"},{"x":0.7,"y":0.78,"g":"k"},{"x":0.2,"y":0.72,"g":"k"},{"x":0.28,"y":0.75,"g":"k"},{"x":0.38,"y":0.78,"g":"k"},{"x":0.48,"y":0.7,"g":"k"},{"x":0.58,"y":0.8,"g":"k"},{"x":0.15,"y":0.62,"g":"k"},{"x":0.25,"y":0.58,"g":"k"},{"x":0.35,"y":0.62,"g":"k"},{"x":0.45,"y":0.6,"g":"k"},{"x":0.52,"y":0.62,"g":"k"},{"x":0.12,"y":0.5,"g":"k"},{"x":0.2,"y":0.48,"g":"k"},{"x":0.3,"y":0.5,"g":"k"},{"x":0.4,"y":0.45,"g":"k"},{"x":0.1,"y":0.38,"g":"k"},{"x":0.18,"y":0.35,"g":"k"},{"x":0.28,"y":0.4,"g":"k"},{"x":0.06,"y":0.28,"g":"k"},{"x":0.14,"y":0.22,"g":"k"},{"x":0.22,"y":0.3,"g":"k"},{"x":0.05,"y":0.18,"g":"k"},{"x":0.1,"y":0.08,"g":"k"},{"x":0.03,"y":0.05,"g":"k"}],
"dL":[{"t":"plasma membrane","v":12.0},{"t":"postsynaptic density","v":11.1},{"t":"postsynaptic membrane","v":8.0},{"t":"dendritic spine","v":8.0},{"t":"cell junction","v":7.6},{"t":"synapse","v":6.4}],
"dR":[{"t":"nucleus","v":35.2},{"t":"nucleoplasm","v":34.1},{"t":"intracellular ribonucleo-\nprotein complex","v":23.8},{"t":"spliceosomal complex","v":21.6},{"t":"catalytic step 2 spliceosome","v":13.2},{"t":"nuclear speck","v":11.8}],
"e":[{"r":1,"v":0.31,"g":"g"},{"r":3,"v":0.33,"g":"g"},{"r":5,"v":0.36,"g":"g"},{"r":7,"v":0.40,"g":"g"},{"r":9,"v":0.45,"g":"r"},{"r":11,"v":0.49,"g":"r"},{"r":13,"v":0.50,"g":"r"},{"r":15,"v":0.52,"g":"r"},{"r":17,"v":0.54,"g":"r"},{"r":19,"v":0.55,"g":"r"},{"r":21,"v":0.56,"g":"r"},{"r":23,"v":0.57,"g":"r"},{"r":25,"v":0.58,"g":"r"},{"r":27,"v":0.60,"g":"r"},{"r":29,"v":0.62,"g":"g"},{"r":31,"v":0.64,"g":"g"},{"r":33,"v":0.66,"g":"r"},{"r":35,"v":0.68,"g":"r"},{"r":37,"v":0.69,"g":"r"},{"r":39,"v":0.70,"g":"r"},{"r":41,"v":0.71,"g":"r"},{"r":43,"v":0.72,"g":"r"},{"r":45,"v":0.74,"g":"g"},{"r":47,"v":0.76,"g":"r"},{"r":49,"v":0.79,"g":"r"},{"r":51,"v":0.81,"g":"r"},{"r":53,"v":0.83,"g":"r"},{"r":55,"v":0.85,"g":"r"},{"r":57,"v":0.87,"g":"r"},{"r":59,"v":0.89,"g":"r"},{"r":61,"v":0.91,"g":"r"},{"r":63,"v":0.92,"g":"r"},{"r":65,"v":0.94,"g":"r"},{"r":67,"v":0.97,"g":"r"},{"r":69,"v":1.00,"g":"r"},{"r":71,"v":1.02,"g":"r"},{"r":73,"v":1.05,"g":"g"},{"r":75,"v":1.09,"g":"g"},{"r":77,"v":1.11,"g":"g"},{"r":79,"v":1.13,"g":"r"},{"r":81,"v":1.16,"g":"r"},{"r":83,"v":1.18,"g":"r"},{"r":85,"v":1.20,"g":"r"},{"r":87,"v":1.22,"g":"r"},{"r":89,"v":1.24,"g":"r"},{"r":91,"v":1.26,"g":"r"},{"r":93,"v":1.28,"g":"r"},{"r":95,"v":1.30,"g":"r"},{"r":97,"v":1.32,"g":"g"},{"r":99,"v":1.33,"g":"g"},{"r":101,"v":1.34,"g":"r"},{"r":103,"v":1.37,"g":"r"},{"r":105,"v":1.45,"g":"r"},{"r":107,"v":1.52,"g":"r"},{"r":109,"v":1.56,"g":"r"},{"r":111,"v":1.58,"g":"r"},{"r":113,"v":1.60,"g":"r"},{"r":115,"v":1.62,"g":"r"},{"r":117,"v":1.63,"g":"r"},{"r":119,"v":1.64,"g":"r"},{"r":121,"v":1.66,"g":"r"},{"r":123,"v":1.76,"g":"r"},{"r":125,"v":1.80,"g":"r"},{"r":127,"v":1.83,"g":"r"},{"r":129,"v":1.86,"g":"r"},{"r":131,"v":1.88,"g":"r"},{"r":133,"v":1.90,"g":"r"},{"r":135,"v":1.91,"g":"r"},{"r":137,"v":1.93,"g":"r"},{"r":139,"v":1.96,"g":"r"},{"r":141,"v":1.98,"g":"r"},{"r":143,"v":2.00,"g":"r"},{"r":145,"v":2.02,"g":"r"},{"r":147,"v":2.04,"g":"r"},{"r":149,"v":2.06,"g":"r"},{"r":151,"v":2.08,"g":"r"},{"r":153,"v":2.10,"g":"r"},{"r":155,"v":2.12,"g":"r"},{"r":157,"v":2.14,"g":"r"},{"r":159,"v":2.16,"g":"r"},{"r":161,"v":2.18,"g":"r"},{"r":163,"v":2.20,"g":"r"},{"r":165,"v":2.22,"g":"r"},{"r":167,"v":2.25,"g":"r"},{"r":169,"v":2.27,"g":"r"},{"r":171,"v":2.30,"g":"r"},{"r":173,"v":2.33,"g":"r"},{"r":175,"v":2.35,"g":"r"},{"r":177,"v":2.37,"g":"r"},{"r":179,"v":2.40,"g":"r"},{"r":181,"v":2.50,"g":"r"},{"r":183,"v":2.52,"g":"r"},{"r":185,"v":2.54,"g":"r"},{"r":187,"v":2.57,"g":"r"},{"r":189,"v":2.60,"g":"r"},{"r":191,"v":2.63,"g":"g"},{"r":193,"v":2.65,"g":"r"},{"r":195,"v":2.68,"g":"r"},{"r":197,"v":2.73,"g":"r"},{"r":199,"v":2.77,"g":"r"},{"r":201,"v":2.80,"g":"r"},{"r":203,"v":2.86,"g":"r"},{"r":205,"v":2.93,"g":"r"},{"r":206,"v":3.31,"g":"r"}],
"elab":[{"n":"Rpl31","lx":37.4,"ly":0.295,"sx":26.5,"sy":0.37,"px":25,"py":0.58},{"n":"Rpl5","lx":51.8,"ly":0.5,"sx":43.5,"sy":0.58,"px":42,"py":0.715},{"n":"Rps23","lx":13,"ly":0.96,"sx":30.1,"sy":0.91,"px":48,"py":0.775},{"n":"Sfxn5","lx":91.7,"ly":0.56,"sx":77.2,"sy":0.58,"px":56,"py":0.86},{"n":"Tkt","lx":38,"ly":1.04,"sx":43.9,"sy":1.02,"px":62,"py":0.915},{"n":"Pmpca","lx":84.5,"ly":0.84,"sx":72.5,"sy":0.88,"px":66,"py":0.955},{"n":"Nampt","lx":35.5,"ly":1.25,"sx":44,"sy":1.17,"px":64,"py":0.93},{"n":"Prpf19","lx":57,"ly":1.44,"sx":70,"sy":1.33,"px":85,"py":1.2},{"n":"Celf2","lx":117,"ly":0.94,"sx":106,"sy":0.98,"px":89,"py":1.24},{"n":"Cstf2","lx":137,"ly":1.22,"sx":127,"sy":1.22,"px":93,"py":1.28},{"n":"Eif4a3","lx":74.7,"ly":1.6,"sx":88,"sy":1.53,"px":102.6,"py":1.355},{"n":"Ddx39b","lx":137,"ly":1.62,"sx":126,"sy":1.64,"px":121,"py":1.66},{"n":"Nono","lx":82.6,"ly":1.86,"sx":95.2,"sy":1.84,"px":123,"py":1.76},{"n":"Dnajc8","lx":91.7,"ly":2.05,"sx":106,"sy":1.99,"px":128,"py":1.845},{"n":"Atrx","lx":135.2,"ly":2.21,"sx":138.8,"sy":2.12,"px":143,"py":2.0},{"n":"Khsrp","lx":135.2,"ly":2.55,"sx":147.8,"sy":2.5,"px":162,"py":2.19},{"n":"Smchd1","lx":184.1,"ly":2.0,"sx":178.2,"sy":2.09,"px":179,"py":2.4},{"n":"Smarcc2","lx":199,"ly":2.31,"sx":182,"sy":2.37,"px":181,"py":2.46},{"n":"Hnrnpa3","lx":164.1,"ly":2.71,"sx":181.5,"sy":2.68,"px":191,"py":2.63},{"n":"Hnrnpa1","lx":167.8,"ly":2.87,"sx":182.3,"sy":2.8,"px":195.6,"py":2.685},{"n":"Hnrnpa0","lx":185.9,"ly":3.11,"sx":201.5,"sy":3.03,"px":203,"py":2.86},{"n":"Hnrnpa2b1","lx":164.1,"ly":3.32,"sx":182.3,"sy":3.34,"px":206,"py":3.31}],
"f":[{"r":1,"v":-2.16,"g":"b"},{"r":2,"v":-2.07,"g":"b"},{"r":3,"v":-1.96,"g":"b"},{"r":4,"v":-1.93,"g":"b"},{"r":5,"v":-1.86,"g":"b"},{"r":6,"v":-1.85,"g":"b"},{"r":7,"v":-1.83,"g":"b"},{"r":8,"v":-1.8,"g":"b"},{"r":9,"v":-1.76,"g":"b"},{"r":10,"v":-1.71,"g":"b"},{"r":11,"v":-1.625,"g":"b"},{"r":12,"v":-1.62,"g":"b"},{"r":13,"v":-1.61,"g":"b"},{"r":14,"v":-1.58,"g":"b"},{"r":15,"v":-1.565,"g":"b"},{"r":16,"v":-1.555,"g":"g"},{"r":17,"v":-1.55,"g":"g"},{"r":18,"v":-1.545,"g":"b"},{"r":19,"v":-1.54,"g":"b"},{"r":20,"v":-1.53,"g":"b"},{"r":21,"v":-1.52,"g":"g"},{"r":22,"v":-1.515,"g":"g"},{"r":23,"v":-1.51,"g":"b"},{"r":24,"v":-1.47,"g":"b"},{"r":25,"v":-1.43,"g":"b"},{"r":26,"v":-1.39,"g":"b"},{"r":27,"v":-1.38,"g":"b"},{"r":28,"v":-1.37,"g":"b"},{"r":29,"v":-1.35,"g":"b"},{"r":30,"v":-1.33,"g":"b"},{"r":31,"v":-1.31,"g":"b"},{"r":32,"v":-1.29,"g":"b"},{"r":33,"v":-1.27,"g":"b"},{"r":34,"v":-1.26,"g":"b"},{"r":35,"v":-1.255,"g":"b"},{"r":36,"v":-1.25,"g":"b"},{"r":37,"v":-1.245,"g":"b"},{"r":38,"v":-1.23,"g":"b"},{"r":39,"v":-1.21,"g":"g"},{"r":40,"v":-1.2,"g":"g"},{"r":41,"v":-1.19,"g":"b"},{"r":42,"v":-1.17,"g":"b"},{"r":43,"v":-1.15,"g":"b"},{"r":44,"v":-1.14,"g":"b"},{"r":45,"v":-1.13,"g":"b"},{"r":46,"v":-1.1,"g":"b"},{"r":47,"v":-1.07,"g":"b"},{"r":48,"v":-1.05,"g":"b"},{"r":49,"v":-1.045,"g":"b"},{"r":50,"v":-1.04,"g":"b"},{"r":51,"v":-1.03,"g":"b"},{"r":52,"v":-1.01,"g":"b"},{"r":53,"v":-1.0,"g":"b"},{"r":54,"v":-0.99,"g":"b"},{"r":55,"v":-0.985,"g":"b"},{"r":56,"v":-0.98,"g":"b"},{"r":57,"v":-0.98,"g":"b"},{"r":58,"v":-0.975,"g":"b"},{"r":59,"v":-0.925,"g":"b"},{"r":60,"v":-0.83,"g":"b"},{"r":61,"v":-0.775,"g":"b"},{"r":62,"v":-0.71,"g":"b"},{"r":63,"v":-0.58,"g":"b"}],
"flab":[{"n":"Gpm6b","lx":50.8,"ly":-0.77,"sx":51.4,"sy":-0.81,"px":53.8,"py":-0.995},{"n":"Dbn1","lx":59.9,"ly":-1.28,"sx":56.8,"sy":-1.21,"px":55.3,"py":-0.985},{"n":"Rgs7bp","lx":38.7,"ly":-0.905,"sx":44.6,"sy":-0.955,"px":44.6,"py":-1.135},{"n":"Anxa6","lx":59.6,"ly":-1.47,"sx":56.3,"sy":-1.4,"px":48.1,"py":-1.05},{"n":"Gria2","lx":48.5,"ly":-1.49,"sx":46.7,"sy":-1.43,"px":40.8,"py":-1.2},{"n":"Slc12a5","lx":30.9,"ly":-1.135,"sx":32.1,"sy":-1.185,"px":35.2,"py":-1.255},{"n":"Atp2b1","lx":42,"ly":-1.58,"sx":39.7,"sy":-1.52,"px":36.4,"py":-1.25},{"n":"Palm","lx":26.8,"ly":-1.31,"sx":28,"sy":-1.35,"px":28.3,"py":-1.37},{"n":"Ppp1r16b","lx":13.3,"ly":-1.32,"sx":19.2,"sy":-1.37,"px":23.5,"py":-1.47},{"n":"Cacnb2","lx":29.1,"ly":-1.47,"sx":24.4,"sy":-1.46,"px":23,"py":-1.51},{"n":"Dock3","lx":4.5,"ly":-1.42,"sx":9.1,"sy":-1.41,"px":16.4,"py":-1.555},{"n":"Actn4","lx":25.4,"ly":-1.565,"sx":22.1,"sy":-1.55,"px":20,"py":-1.53},{"n":"Pde8b","lx":25,"ly":-1.81,"sx":21.9,"sy":-1.77,"px":18,"py":-1.545},{"n":"Gria3","lx":4.5,"ly":-1.6,"sx":9.8,"sy":-1.6,"px":10.9,"py":-1.625},{"n":"Actn2","lx":14.4,"ly":-1.7,"sx":11.5,"sy":-1.71,"px":10.1,"py":-1.71},{"n":"Synpo","lx":2.7,"ly":-1.78,"sx":6.8,"sy":-1.78,"px":7.7,"py":-1.8},{"n":"Grin2b","lx":15,"ly":-1.855,"sx":10.9,"sy":-1.84,"px":9.2,"py":-1.76},{"n":"Dlg4","lx":6.2,"ly":-1.94,"sx":4.8,"sy":-1.9,"px":4.5,"py":-1.86},{"n":"Grm1","lx":6.8,"ly":-2.03,"sx":3.5,"sy":-2.01,"px":2.9,"py":-1.96}]
},
"resolve":{"scale":{"x":"independent","y":"independent"}},
"layer":[
{"layer":[
 {"data":{"name":"boxes"},"mark":{"type":"rect","fill":"#EBEBEB"},"encoding":{"x":{"field":"x0","type":"quantitative","scale":{"domain":[0,100],"range":[0,799],"nice":false,"zero":false},"axis":null},"x2":{"field":"x1"},"y":{"field":"y0","type":"quantitative","scale":{"domain":[0,100],"range":[0,609],"nice":false,"zero":false},"axis":null},"y2":{"field":"y1"}}},
 {"data":{"name":"arrows"},"mark":{"type":"rule","color":"#000000","strokeWidth":1.7},"encoding":{"x":{"field":"x0","type":"quantitative","scale":{"domain":[0,100],"range":[0,799],"nice":false,"zero":false},"axis":null},"x2":{"field":"x1"},"y":{"field":"y","type":"quantitative","scale":{"domain":[0,100],"range":[0,609],"nice":false,"zero":false},"axis":null}}},
 {"data":{"name":"arrows"},"mark":{"type":"point","shape":"triangle-right","filled":true,"color":"#000000","size":30,"opacity":1},"encoding":{"x":{"field":"x1","type":"quantitative","scale":{"domain":[0,100],"range":[0,799],"nice":false,"zero":false},"axis":null},"y":{"field":"y","type":"quantitative","scale":{"domain":[0,100],"range":[0,609],"nice":false,"zero":false},"axis":null}}},
 {"data":{"name":"vlines"},"mark":{"type":"rule","color":"#000000","strokeWidth":1.4},"encoding":{"x":{"field":"x","type":"quantitative","scale":{"domain":[0,100],"range":[0,799],"nice":false,"zero":false},"axis":null},"y":{"field":"y0","type":"quantitative","scale":{"domain":[0,100],"range":[0,609],"nice":false,"zero":false},"axis":null},"y2":{"field":"y1"}}},
 {"data":{"name":"anntext"},"transform":[{"filter":"datum.k=='box'"}],"mark":{"type":"text","fontSize":7.3,"color":"#222222","baseline":"middle"},"encoding":{"x":{"field":"x","type":"quantitative","scale":{"domain":[0,100],"range":[0,799],"nice":false,"zero":false},"axis":null},"y":{"field":"y","type":"quantitative","scale":{"domain":[0,100],"range":[0,609],"nice":false,"zero":false},"axis":null},"text":{"field":"t"}}},
 {"data":{"name":"anntext"},"transform":[{"filter":"datum.k=='strip'"}],"mark":{"type":"text","fontSize":10.5,"color":"#222222","baseline":"middle"},"encoding":{"x":{"field":"x","type":"quantitative","scale":{"domain":[0,100],"range":[0,799],"nice":false,"zero":false},"axis":null},"y":{"field":"y","type":"quantitative","scale":{"domain":[0,100],"range":[0,609],"nice":false,"zero":false},"axis":null},"text":{"field":"t"}}},
 {"data":{"name":"anntext"},"transform":[{"filter":"datum.k=='letter'"}],"mark":{"type":"text","fontSize":14,"fontWeight":"bold","color":"#000000","baseline":"middle"},"encoding":{"x":{"field":"x","type":"quantitative","scale":{"domain":[0,100],"range":[0,799],"nice":false,"zero":false},"axis":null},"y":{"field":"y","type":"quantitative","scale":{"domain":[0,100],"range":[0,609],"nice":false,"zero":false},"axis":null},"text":{"field":"t"}}},
 {"data":{"name":"anntext"},"transform":[{"filter":"datum.k=='dtitle'"}],"mark":{"type":"text","fontSize":10.5,"fontWeight":"bold","color":"#000000","baseline":"middle"},"encoding":{"x":{"field":"x","type":"quantitative","scale":{"domain":[0,100],"range":[0,799],"nice":false,"zero":false},"axis":null},"y":{"field":"y","type":"quantitative","scale":{"domain":[0,100],"range":[0,609],"nice":false,"zero":false},"axis":null},"text":{"field":"t"}}}
]},
{"layer":[
 {"data":{"name":"b"},"mark":{"type":"circle","size":10,"opacity":1},"encoding":{"x":{"field":"x","type":"quantitative","scale":{"domain":[-3.57,5.38],"range":[49,247],"nice":false,"zero":false},"axis":{"orient":"bottom","offset":-283,"values":[-2,0,2,4],"format":"d","title":"log2FC (H2B - CTRL)"}},"y":{"field":"y","type":"quantitative","scale":{"domain":[-0.73,15.4],"range":[326,127],"nice":false,"zero":false},"axis":{"orient":"left","offset":-49,"values":[0,5,10,15],"format":"d","title":"- log (q-value)"}},"color":{"field":"g","type":"nominal","scale":{"domain":["k","r","b","g"],"range":["#000000","#F26B50","#2B8DEF","#8C8C8C"]},"legend":null}}},
 {"data":{"values":[{}]},"mark":{"type":"rule","color":"#000000","strokeDash":[3,2],"strokeWidth":1},"encoding":{"x":{"datum":-3.57,"type":"quantitative","scale":{"domain":[-3.57,5.38],"range":[49,247],"nice":false,"zero":false}},"x2":{"datum":5.38},"y":{"datum":1.3,"type":"quantitative","scale":{"domain":[-0.73,15.4],"range":[326,127],"nice":false,"zero":false}}}},
 {"data":{"values":[{}]},"mark":{"type":"rect","fillOpacity":0,"stroke":"#333333","strokeWidth":1},"encoding":{"x":{"datum":-3.57,"type":"quantitative","scale":{"domain":[-3.57,5.38],"range":[49,247],"nice":false,"zero":false}},"x2":{"datum":5.38},"y":{"datum":-0.73,"type":"quantitative","scale":{"domain":[-0.73,15.4],"range":[326,127],"nice":false,"zero":false}},"y2":{"datum":15.4}}},
 {"data":{"values":[{}]},"mark":{"type":"text","color":"#F26B50","fontSize":10,"lineBreak":"\n","lineHeight":11},"encoding":{"x":{"datum":0.14,"type":"quantitative","scale":{"domain":[-3.57,5.38],"range":[49,247],"nice":false,"zero":false}},"y":{"datum":11.2,"type":"quantitative","scale":{"domain":[-0.73,15.4],"range":[326,127],"nice":false,"zero":false}},"text":{"value":"Cre-dependent\nenrichment"}}},
 {"data":{"values":[{}]},"mark":{"type":"text","color":"#333333","fontSize":10},"encoding":{"x":{"datum":2.73,"type":"quantitative","scale":{"domain":[-3.57,5.38],"range":[49,247],"nice":false,"zero":false}},"y":{"datum":0.24,"type":"quantitative","scale":{"domain":[-0.73,15.4],"range":[326,127],"nice":false,"zero":false}},"text":{"value":"background"}}}
]},
{"layer":[
 {"data":{"name":"c1"},"mark":{"type":"circle","size":10,"opacity":1},"encoding":{"x":{"field":"x","type":"quantitative","scale":{"domain":[-3.34,4.38],"range":[346,547],"nice":false,"zero":false},"axis":{"orient":"bottom","offset":-283,"values":[-2,0,2,4],"format":"d","title":"log2FC (H2B - NES)"}},"y":{"field":"y","type":"quantitative","scale":{"domain":[-0.155,3.15],"range":[326,127],"nice":false,"zero":false},"axis":{"orient":"left","offset":-346,"values":[0,1,2,3],"format":"d","title":"- log (q-value)"}},"color":{"field":"g","type":"nominal","scale":{"domain":["k","r","b","g"],"range":["#000000","#F26B50","#2B8DEF","#8C8C8C"]},"legend":null}}},
 {"data":{"values":[{}]},"mark":{"type":"rule","color":"#000000","strokeDash":[3,2],"strokeWidth":1},"encoding":{"x":{"datum":-3.34,"type":"quantitative","scale":{"domain":[-3.34,4.38],"range":[346,547],"nice":false,"zero":false}},"x2":{"datum":4.38},"y":{"datum":1.3,"type":"quantitative","scale":{"domain":[-0.155,3.15],"range":[326,127],"nice":false,"zero":false}}}},
 {"data":{"values":[{}]},"mark":{"type":"rect","fillOpacity":0,"stroke":"#333333","strokeWidth":1},"encoding":{"x":{"datum":-3.34,"type":"quantitative","scale":{"domain":[-3.34,4.38],"range":[346,547],"nice":false,"zero":false}},"x2":{"datum":4.38},"y":{"datum":-0.155,"type":"quantitative","scale":{"domain":[-0.155,3.15],"range":[326,127],"nice":false,"zero":false}},"y2":{"datum":3.15}}},
 {"data":{"values":[{}]},"mark":{"type":"text","color":"#333333","fontSize":10,"lineBreak":"\n","lineHeight":11},"encoding":{"x":{"datum":-1.94,"type":"quantitative","scale":{"domain":[-3.34,4.38],"range":[346,547],"nice":false,"zero":false}},"y":{"datum":2.525,"type":"quantitative","scale":{"domain":[-0.155,3.15],"range":[326,127],"nice":false,"zero":false}},"text":{"value":"cytosol\n(NES)"}}},
 {"data":{"values":[{}]},"mark":{"type":"text","color":"#F26B50","fontSize":10,"lineBreak":"\n","lineHeight":11},"encoding":{"x":{"datum":3.49,"type":"quantitative","scale":{"domain":[-3.34,4.38],"range":[346,547],"nice":false,"zero":false}},"y":{"datum":1.74,"type":"quantitative","scale":{"domain":[-0.155,3.15],"range":[326,127],"nice":false,"zero":false}},"text":{"value":"Nucleus\n(H2B)"}}}
]},
{"layer":[
 {"data":{"name":"c2"},"mark":{"type":"circle","size":10,"opacity":1},"encoding":{"x":{"field":"x","type":"quantitative","scale":{"domain":[-3.42,4.34],"range":[597,798],"nice":false,"zero":false},"axis":{"orient":"bottom","offset":-283,"values":[-2,0,2,4],"format":"d","title":"log2FC (H2B - LCK)"}},"y":{"field":"y","type":"quantitative","scale":{"domain":[-0.116,2.376],"range":[326,127],"nice":false,"zero":false},"axis":{"orient":"left","offset":-597,"values":[0,0.5,1,1.5,2],"format":".1f","title":"- log (q-value)"}},"color":{"field":"g","type":"nominal","scale":{"domain":["k","r","b","g"],"range":["#000000","#F26B50","#2B8DEF","#8C8C8C"]},"legend":null}}},
 {"data":{"values":[{}]},"mark":{"type":"rule","color":"#000000","strokeDash":[3,2],"strokeWidth":1},"encoding":{"x":{"datum":-3.42,"type":"quantitative","scale":{"domain":[-3.42,4.34],"range":[597,798],"nice":false,"zero":false}},"x2":{"datum":4.34},"y":{"datum":1.3,"type":"quantitative","scale":{"domain":[-0.116,2.376],"range":[326,127],"nice":false,"zero":false}}}},
 {"data":{"values":[{}]},"mark":{"type":"rect","fillOpacity":0,"stroke":"#333333","strokeWidth":1},"encoding":{"x":{"datum":-3.42,"type":"quantitative","scale":{"domain":[-3.42,4.34],"range":[597,798],"nice":false,"zero":false}},"x2":{"datum":4.34},"y":{"datum":-0.116,"type":"quantitative","scale":{"domain":[-0.116,2.376],"range":[326,127],"nice":false,"zero":false}},"y2":{"datum":2.376}}},
 {"data":{"values":[{}]},"mark":{"type":"text","color":"#2B8DEF","fontSize":10,"lineBreak":"\n","lineHeight":11},"encoding":{"x":{"datum":-1.92,"type":"quantitative","scale":{"domain":[-3.42,4.34],"range":[597,798],"nice":false,"zero":false}},"y":{"datum":2.12,"type":"quantitative","scale":{"domain":[-0.116,2.376],"range":[326,127],"nice":false,"zero":false}},"text":{"value":"membrane\n(LCK)"}}},
 {"data":{"values":[{}]},"mark":{"type":"text","color":"#F26B50","fontSize":10,"lineBreak":"\n","lineHeight":11},"encoding":{"x":{"datum":3.47,"type":"quantitative","scale":{"domain":[-3.42,4.34],"range":[597,798],"nice":false,"zero":false}},"y":{"datum":1.62,"type":"quantitative","scale":{"domain":[-0.116,2.376],"range":[326,127],"nice":false,"zero":false}},"text":{"value":"Nucleus\n(H2B)"}}}
]},
{"data":{"name":"dL"},"layer":[
 {"mark":{"type":"bar","color":"#808080"},"encoding":{"y":{"field":"t","type":"nominal","sort":null,"scale":{"range":[420,552.6],"paddingInner":0.45,"paddingOuter":0.225},"axis":null},"x":{"field":"v","type":"quantitative","scale":{"domain":[0,15],"range":[149,58.7],"nice":false,"zero":false},"axis":{"orient":"bottom","offset":-54,"values":[0,5,10,15],"format":"d","title":null,"domain":true,"domainColor":"#000000","tickColor":"#000000","tickSize":4,"labelPadding":1,"labelColor":"#000000","labelFontSize":8.5}}}},
 {"mark":{"type":"text","align":"right","dx":-5,"fontSize":8.6,"color":"#333333","baseline":"middle"},"encoding":{"y":{"field":"t","type":"nominal","sort":null,"scale":{"range":[420,552.6],"paddingInner":0.45,"paddingOuter":0.225},"axis":null},"x":{"field":"v","type":"quantitative","scale":{"domain":[0,15],"range":[149,58.7],"nice":false,"zero":false}},"text":{"field":"t"}}}
]},
{"data":{"name":"dR"},"layer":[
 {"mark":{"type":"bar","color":"#808080"},"encoding":{"y":{"field":"t","type":"nominal","sort":null,"scale":{"range":[420,552.6],"paddingInner":0.45,"paddingOuter":0.225},"axis":null},"x":{"field":"v","type":"quantitative","scale":{"domain":[0,40],"range":[153.5,243.3],"nice":false,"zero":false},"axis":{"orient":"bottom","offset":-54,"values":[0,10,20,30,40],"format":"d","title":null,"domain":true,"domainColor":"#000000","tickColor":"#000000","tickSize":4,"labelPadding":1,"labelColor":"#000000","labelFontSize":8.5}}}},
 {"mark":{"type":"text","align":"left","dx":6,"fontSize":8.8,"color":"#333333","baseline":"middle","lineBreak":"\n","lineHeight":10.5},"encoding":{"y":{"field":"t","type":"nominal","sort":null,"scale":{"range":[420,552.6],"paddingInner":0.45,"paddingOuter":0.225},"axis":null},"x":{"field":"v","type":"quantitative","scale":{"domain":[0,40],"range":[153.5,243.3],"nice":false,"zero":false}},"text":{"field":"t"}}}
]},
{"layer":[
 {"data":{"name":"elab"},"mark":{"type":"rule","color":"#000000","strokeWidth":0.8},"encoding":{"x":{"field":"sx","type":"quantitative","scale":{"domain":[-9.3,214.9],"range":[339,545],"nice":false,"zero":false}},"x2":{"field":"px"},"y":{"field":"sy","type":"quantitative","scale":{"domain":[0.17,3.46],"range":[585,384],"nice":false,"zero":false}},"y2":{"field":"py"}}},
 {"data":{"name":"e"},"mark":{"type":"circle","size":14,"opacity":1},"encoding":{"x":{"field":"r","type":"quantitative","scale":{"domain":[-9.3,214.9],"range":[339,545],"nice":false,"zero":false},"axis":{"orient":"bottom","offset":-24,"values":[0,50,100,150,200],"format":"d","title":"Rank","titlePadding":1,"labelPadding":1,"titleFontSize":10}},"y":{"field":"v","type":"quantitative","scale":{"domain":[0.17,3.46],"range":[585,384],"nice":false,"zero":false},"axis":{"orient":"left","offset":-339,"values":[1,2,3],"format":"d","title":"log2FC (H2B - NES)"}},"color":{"field":"g","type":"nominal","scale":{"domain":["k","r","b","g"],"range":["#000000","#F26B50","#2B8DEF","#8C8C8C"]},"legend":null}}},
 {"data":{"name":"elab"},"mark":{"type":"text","fontSize":10,"fontStyle":"italic","color":"#1A1A1A","baseline":"middle"},"encoding":{"x":{"field":"lx","type":"quantitative","scale":{"domain":[-9.3,214.9],"range":[339,545],"nice":false,"zero":false}},"y":{"field":"ly","type":"quantitative","scale":{"domain":[0.17,3.46],"range":[585,384],"nice":false,"zero":false}},"text":{"field":"n"}}},
 {"data":{"values":[{}]},"mark":{"type":"rect","fillOpacity":0,"stroke":"#333333","strokeWidth":1},"encoding":{"x":{"datum":-9.3,"type":"quantitative","scale":{"domain":[-9.3,214.9],"range":[339,545],"nice":false,"zero":false}},"x2":{"datum":214.9},"y":{"datum":0.17,"type":"quantitative","scale":{"domain":[0.17,3.46],"range":[585,384],"nice":false,"zero":false}},"y2":{"datum":3.46}}},
 {"data":{"values":[{}]},"mark":{"type":"circle","size":55,"color":"#F26B50","opacity":1},"encoding":{"x":{"datum":2.2,"type":"quantitative","scale":{"domain":[-9.3,214.9],"range":[339,545],"nice":false,"zero":false}},"y":{"datum":3.25,"type":"quantitative","scale":{"domain":[0.17,3.46],"range":[585,384],"nice":false,"zero":false}}}},
 {"data":{"values":[{}]},"mark":{"type":"text","align":"left","color":"#333333","fontSize":10,"lineBreak":"\n","lineHeight":10,"baseline":"middle"},"encoding":{"x":{"datum":13.8,"type":"quantitative","scale":{"domain":[-9.3,214.9],"range":[339,545],"nice":false,"zero":false}},"y":{"datum":3.2,"type":"quantitative","scale":{"domain":[0.17,3.46],"range":[585,384],"nice":false,"zero":false}},"text":{"value":"nucleus\nannotation"}}},
 {"data":{"values":[{}]},"mark":{"type":"text","color":"#F26B50","fontSize":10,"lineBreak":"\n","lineHeight":9.5,"baseline":"middle"},"encoding":{"x":{"datum":93.5,"type":"quantitative","scale":{"domain":[-9.3,214.9],"range":[339,545],"nice":false,"zero":false}},"y":{"datum":3.28,"type":"quantitative","scale":{"domain":[0.17,3.46],"range":[585,384],"nice":false,"zero":false}},"text":{"value":"most H2B-\nenriched"}}},
 {"data":{"values":[{}]},"mark":{"type":"point","shape":"triangle-right","filled":true,"size":40,"color":"#F26B50","opacity":1},"encoding":{"x":{"datum":124.3,"type":"quantitative","scale":{"domain":[-9.3,214.9],"range":[339,545],"nice":false,"zero":false}},"y":{"datum":3.32,"type":"quantitative","scale":{"domain":[0.17,3.46],"range":[585,384],"nice":false,"zero":false}}}}
]},
{"layer":[
 {"data":{"name":"flab"},"mark":{"type":"rule","color":"#000000","strokeWidth":0.8},"encoding":{"x":{"field":"sx","type":"quantitative","scale":{"domain":[-2.2,66.4],"range":[601,796],"nice":false,"zero":false}},"x2":{"field":"px"},"y":{"field":"sy","type":"quantitative","scale":{"domain":[-2.236,-0.494],"range":[586,384],"nice":false,"zero":false}},"y2":{"field":"py"}}},
 {"data":{"name":"f"},"mark":{"type":"circle","size":16,"opacity":1},"encoding":{"x":{"field":"r","type":"quantitative","scale":{"domain":[-2.2,66.4],"range":[601,796],"nice":false,"zero":false},"axis":{"orient":"bottom","offset":-23,"values":[0,20,40,60],"format":"d","title":"Rank","titlePadding":1,"labelPadding":1,"titleFontSize":10}},"y":{"field":"v","type":"quantitative","scale":{"domain":[-2.236,-0.494],"range":[586,384],"nice":false,"zero":false},"axis":{"orient":"left","offset":-601,"values":[-2,-1.5,-1,-0.5],"format":".1f","title":"log2FC (H2B - LCK)"}},"color":{"field":"g","type":"nominal","scale":{"domain":["k","r","b","g"],"range":["#000000","#F26B50","#2B8DEF","#8C8C8C"]},"legend":null}}},
 {"data":{"name":"flab"},"mark":{"type":"text","fontSize":10,"fontStyle":"italic","color":"#1A1A1A","baseline":"middle"},"encoding":{"x":{"field":"lx","type":"quantitative","scale":{"domain":[-2.2,66.4],"range":[601,796],"nice":false,"zero":false}},"y":{"field":"ly","type":"quantitative","scale":{"domain":[-2.236,-0.494],"range":[586,384],"nice":false,"zero":false}},"text":{"field":"n"}}},
 {"data":{"values":[{}]},"mark":{"type":"rect","fillOpacity":0,"stroke":"#333333","strokeWidth":1},"encoding":{"x":{"datum":-2.2,"type":"quantitative","scale":{"domain":[-2.2,66.4],"range":[601,796],"nice":false,"zero":false}},"x2":{"datum":66.4},"y":{"datum":-2.236,"type":"quantitative","scale":{"domain":[-2.236,-0.494],"range":[586,384],"nice":false,"zero":false}},"y2":{"datum":-0.494}}},
 {"data":{"values":[{}]},"mark":{"type":"circle","size":55,"color":"#2B8DEF","opacity":1},"encoding":{"x":{"datum":2.1,"type":"quantitative","scale":{"domain":[-2.2,66.4],"range":[601,796],"nice":false,"zero":false}},"y":{"datum":-0.608,"type":"quantitative","scale":{"domain":[-2.236,-0.494],"range":[586,384],"nice":false,"zero":false}}}},
 {"data":{"values":[{}]},"mark":{"type":"text","align":"left","color":"#333333","fontSize":10,"lineBreak":"\n","lineHeight":10,"baseline":"middle"},"encoding":{"x":{"datum":8,"type":"quantitative","scale":{"domain":[-2.2,66.4],"range":[601,796],"nice":false,"zero":false}},"y":{"datum":-0.649,"type":"quantitative","scale":{"domain":[-2.236,-0.494],"range":[586,384],"nice":false,"zero":false}},"text":{"value":"membrane\nannotation"}}},
 {"data":{"values":[{}]},"mark":{"type":"text","color":"#2B8DEF","fontSize":10,"lineBreak":"\n","lineHeight":9.5,"baseline":"middle"},"encoding":{"x":{"datum":36.8,"type":"quantitative","scale":{"domain":[-2.2,66.4],"range":[601,796],"nice":false,"zero":false}},"y":{"datum":-2.125,"type":"quantitative","scale":{"domain":[-2.236,-0.494],"range":[586,384],"nice":false,"zero":false}},"text":{"value":"most LCK-\nenriched"}}},
 {"data":{"values":[{}]},"mark":{"type":"point","shape":"triangle-left","filled":true,"size":40,"color":"#2B8DEF","opacity":1},"encoding":{"x":{"datum":26.8,"type":"quantitative","scale":{"domain":[-2.2,66.4],"range":[601,796],"nice":false,"zero":false}},"y":{"datum":-2.16,"type":"quantitative","scale":{"domain":[-2.236,-0.494],"range":[586,384],"nice":false,"zero":false}}}}
]}
]
}
